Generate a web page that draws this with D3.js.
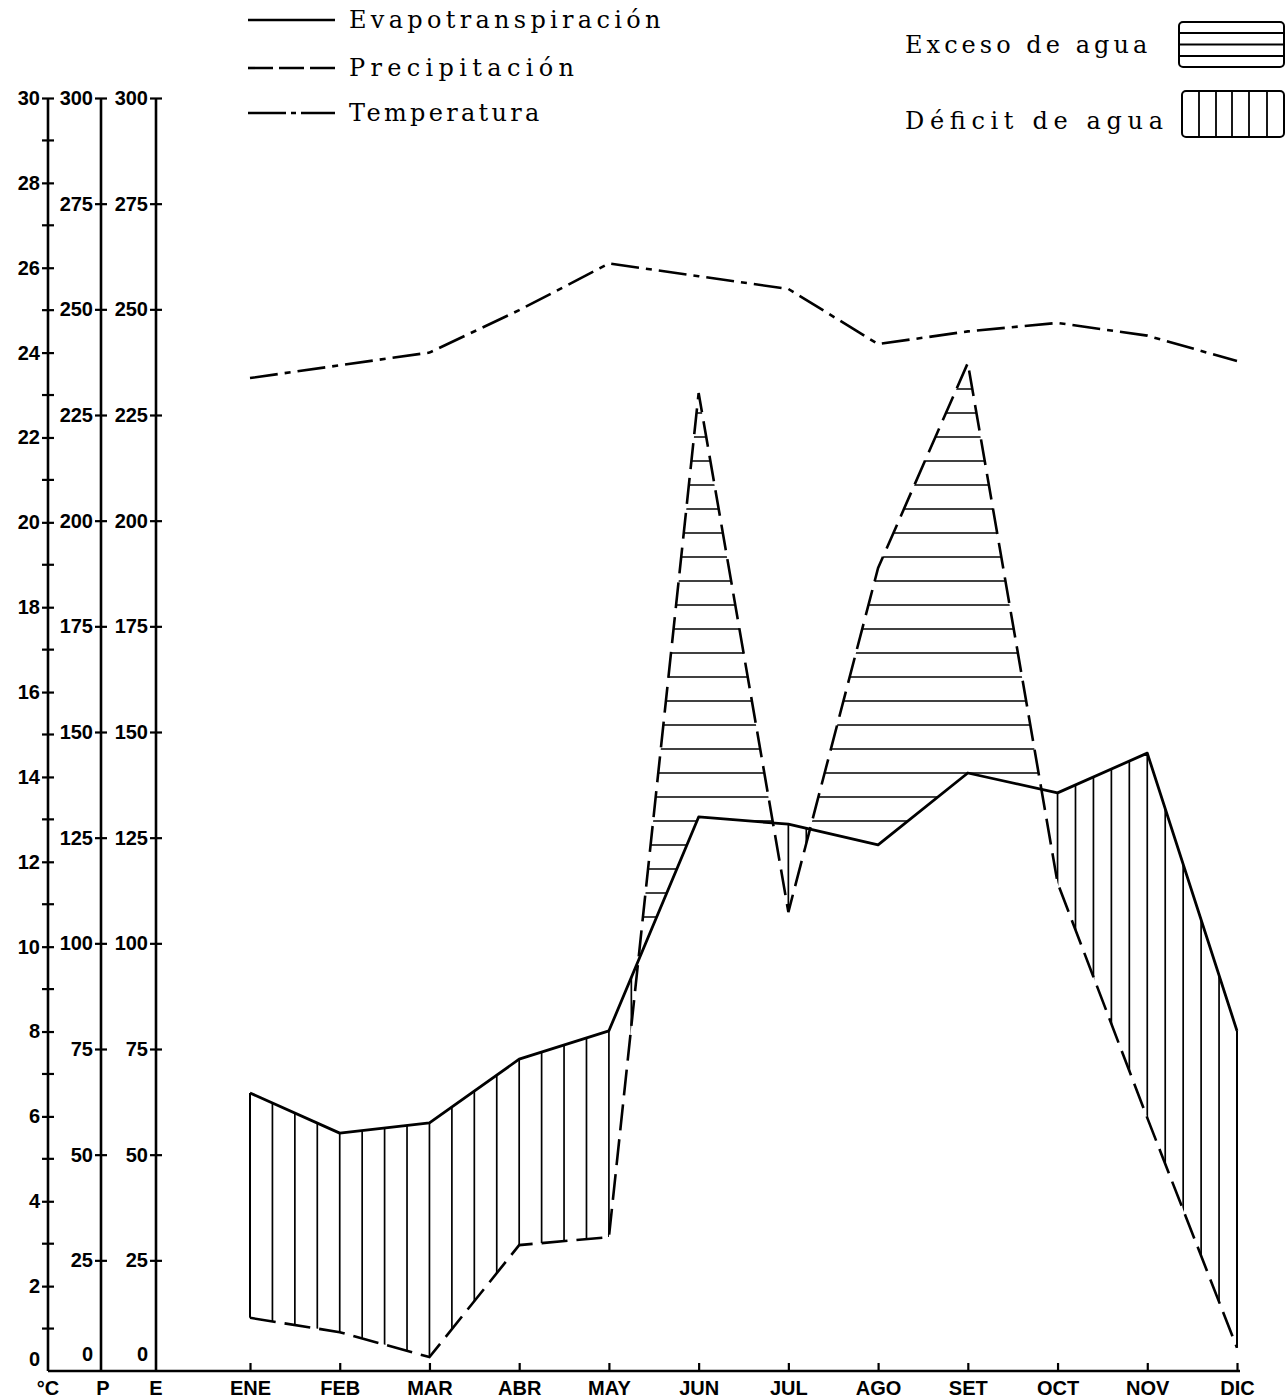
<!DOCTYPE html>
<html>
<head>
<meta charset="utf-8">
<script src="https://cdn.jsdelivr.net/npm/d3@7"></script>
<style>
  body { margin: 0; background: #fff; }
  svg { display: block; background: #fff; }
  .tick-lbl { font-family: 'Liberation Sans', Arial, sans-serif; font-weight: bold; font-size: 20px; fill: #000; }
  .legend { font-family: 'DejaVu Serif', serif; font-size: 24px; fill: #000; }
</style>
</head>
<body>
<svg id="chart" width="1287" height="1399"></svg>
<script>
// monthly water balance
const months = ['ENE', 'FEB', 'MAR', 'ABR', 'MAY', 'JUN', 'JUL', 'AGO', 'SET', 'OCT', 'NOV', 'DIC'];
const evapo = [64.6, 55.1, 57.5, 72.6, 79.3, 129.9, 128.2, 123.3, 140.3, 135.6, 145.0, 79.3];
const precip = [11.4, 8.0, 2.1, 28.6, 30.5, 230.2, 107.4, 188.8, 237.3, 114.3, 58.7, 4.3];
const temp = [23.4, 23.7, 24.0, 25.0, 26.1, 25.8, 25.5, 24.2, 24.5, 24.7, 24.4, 23.8];

const tempTicks = d3.range(0, 31, 2);
const tempMinor = d3.range(1, 30, 2);
const mmTicks = d3.range(0, 301, 25);

const svg = d3.select('#chart');

const x = d3.scalePoint().domain(months).range([250, 1237]);
const xi = d3.scaleLinear().domain([0, months.length - 1]).range([250, 1237]);
const yT = d3.scaleLinear().domain([0, 30]).range([1371, 98]);
const yMM = d3.scaleLinear().domain([0, 300]).range([1366, 98]);

const axT = 48, axP = 101, axE = 156, base = 1371;

// points incl. crossings of E and P, for the excess / deficit regions
const pts = [];
for (let i = 0; i < months.length; i++) {
  pts.push({ i: i, e: evapo[i], p: precip[i] });
  if (i < months.length - 1) {
    const d0 = evapo[i] - precip[i], d1 = evapo[i + 1] - precip[i + 1];
    if (d0 * d1 < 0) {
      const t = d0 / (d0 - d1);
      pts.push({ i: i + t, e: evapo[i] + t * (evapo[i + 1] - evapo[i]), p: precip[i] + t * (precip[i + 1] - precip[i]) });
    }
  }
}

const excessArea = d3.area()
  .x(d => xi(d.i))
  .y0(d => yMM(d.e))
  .y1(d => yMM(Math.max(d.p, d.e)));

const deficitArea = d3.area()
  .x(d => xi(d.i))
  .y0(d => yMM(d.e))
  .y1(d => yMM(Math.min(d.p, d.e)));

const defs = svg.append('defs');
defs.append('clipPath').attr('id', 'clipExcess').append('path').attr('d', excessArea(pts));
defs.append('clipPath').attr('id', 'clipDeficit').append('path').attr('d', deficitArea(pts));

// horizontal hatch (exceso)
const hatchY = d3.range(917, 385, -24);
svg.append('g')
  .attr('clip-path', 'url(#clipExcess)')
  .selectAll('line')
  .data(hatchY)
  .enter()
  .append('line')
  .attr('x1', xi(0)).attr('x2', xi(11))
  .attr('y1', d => d).attr('y2', d => d)
  .attr('stroke', '#000').attr('stroke-width', 1.7);

// vertical hatch (deficit)
const hatchX = d3.range(0, 5.01, 0.25).concat(d3.range(5.2, 11.01, 0.2));
svg.append('g')
  .attr('clip-path', 'url(#clipDeficit)')
  .selectAll('line')
  .data(hatchX)
  .enter()
  .append('line')
  .attr('x1', d => xi(d)).attr('x2', d => xi(d))
  .attr('y1', 90).attr('y2', base)
  .attr('stroke', '#000').attr('stroke-width', 1.7);

// closing edges at ENE and DIC
[0, months.length - 1].forEach(i => {
  svg.append('line')
    .attr('x1', x(months[i])).attr('x2', x(months[i]))
    .attr('y1', yMM(evapo[i])).attr('y2', yMM(precip[i]))
    .attr('stroke', '#000').attr('stroke-width', 2);
});

// series lines
const lineMM = d3.line().x((d, i) => x(months[i])).y(d => yMM(d));
const lineT = d3.line().x((d, i) => x(months[i])).y(d => yT(d));

svg.append('path').datum(precip)
  .attr('d', lineMM).attr('fill', 'none')
  .attr('stroke', '#000').attr('stroke-width', 2.6)
  .attr('stroke-dasharray', '26,9');

svg.append('path').datum(evapo)
  .attr('d', lineMM).attr('fill', 'none')
  .attr('stroke', '#000').attr('stroke-width', 2.8)
  .attr('stroke-linejoin', 'round');

svg.append('path').datum(temp)
  .attr('d', lineT).attr('fill', 'none')
  .attr('stroke', '#000').attr('stroke-width', 2.6)
  .attr('stroke-dasharray', '28,7,6,7');

// left axes: °C, P, E
function crossTicks(g, size) {
  g.select('.domain').attr('stroke-width', 2.6);
  g.selectAll('.tick line').attr('x1', size).attr('x2', -size).attr('stroke-width', 2.2);
  g.selectAll('.tick text').attr('class', 'tick-lbl').attr('font-family', null).attr('font-size', null);
  g.selectAll('.tick').filter(d => d === 0).select('line').remove();
  g.selectAll('.tick').filter(d => d === 0).select('text').attr('dy', '-0.3em');
}

const gT = svg.append('g').attr('transform', `translate(${axT},0)`)
  .call(d3.axisLeft(yT).tickValues(tempTicks).tickSize(6).tickSizeOuter(0).tickPadding(2));
crossTicks(gT, 6);
gT.selectAll('.minor')
  .data(tempMinor)
  .enter()
  .append('line')
  .attr('x1', -6).attr('x2', 6)
  .attr('y1', d => yT(d)).attr('y2', d => yT(d))
  .attr('stroke', '#000').attr('stroke-width', 2.2);

[axP, axE].forEach(ax => {
  const g = svg.append('g').attr('transform', `translate(${ax},0)`)
    .call(d3.axisLeft(yMM).tickValues(mmTicks).tickSize(6).tickSizeOuter(0).tickPadding(2));
  crossTicks(g, 6);
  g.select('.domain').attr('d', `M0,${yMM(300)}V${base}`);
});
gT.select('.domain').attr('d', `M0,${yT(30)}V${base}`);

// bottom axis
svg.append('line')
  .attr('x1', axT).attr('x2', 1240)
  .attr('y1', base).attr('y2', base)
  .attr('stroke', '#000').attr('stroke-width', 2.6);

const gX = svg.append('g').attr('transform', `translate(0,${base})`)
  .call(d3.axisBottom(x).tickSize(-8).tickPadding(10));
gX.select('.domain').remove();
gX.selectAll('.tick line').attr('stroke-width', 2.2);
gX.selectAll('.tick text').attr('class', 'tick-lbl').attr('font-family', null).attr('font-size', null);

[['°C', axT], ['P', axP + 2], ['E', axE]].forEach(([t, px]) => {
  svg.append('text')
    .attr('class', 'tick-lbl')
    .attr('x', px).attr('y', base + 10)
    .attr('dy', '0.71em')
    .attr('text-anchor', 'middle')
    .text(t);
});

// legend, top left
const legendRows = [
  { label: 'Evapotranspiración', y: 20, dash: null },
  { label: 'Precipitación', y: 68, dash: '25,6' },
  { label: 'Temperatura', y: 113, dash: '38,5,5,5,40' }
];
legendRows.forEach(r => {
  svg.append('line')
    .attr('x1', 248).attr('x2', 335)
    .attr('y1', r.y).attr('y2', r.y)
    .attr('stroke', '#000').attr('stroke-width', 2.6)
    .attr('stroke-dasharray', r.dash);
  svg.append('text')
    .attr('class', 'legend')
    .attr('x', 349).attr('y', r.y + 8)
    .attr('textLength', r.label.length * 17.3)
    .attr('lengthAdjust', 'spacing')
    .text(r.label);
});

// legend, top right
svg.append('text').attr('class', 'legend')
  .attr('x', 905).attr('y', 53)
  .attr('textLength', 14 * 17.3).attr('lengthAdjust', 'spacing')
  .text('Exceso de agua');
svg.append('text').attr('class', 'legend')
  .attr('x', 905).attr('y', 129)
  .attr('textLength', 15 * 17.2).attr('lengthAdjust', 'spacing')
  .text('Déficit de agua');

svg.append('rect')
  .attr('x', 1179).attr('y', 22).attr('width', 105).attr('height', 45).attr('rx', 4)
  .attr('fill', 'none').attr('stroke', '#000').attr('stroke-width', 2);
[33, 44.5, 56].forEach(ly => {
  svg.append('line').attr('x1', 1179).attr('x2', 1284)
    .attr('y1', ly).attr('y2', ly)
    .attr('stroke', '#000').attr('stroke-width', 1.8);
});

svg.append('rect')
  .attr('x', 1182).attr('y', 91).attr('width', 102).attr('height', 46).attr('rx', 4)
  .attr('fill', 'none').attr('stroke', '#000').attr('stroke-width', 2);
[1199, 1216, 1232, 1249, 1267].forEach(lx => {
  svg.append('line').attr('x1', lx).attr('x2', lx)
    .attr('y1', 91).attr('y2', 137)
    .attr('stroke', '#000').attr('stroke-width', 1.8);
});
</script>
</body>
</html>
